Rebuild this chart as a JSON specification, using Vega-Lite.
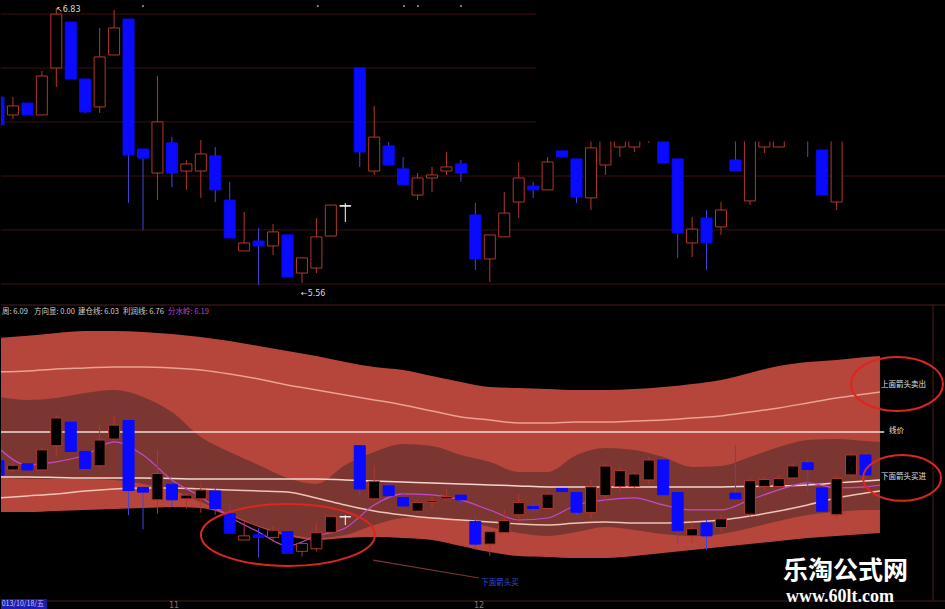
{
  "$schema": "https://vega.github.io/schema/vega-lite/v6.json",
  "background": "#000000",
  "padding": 0,
  "spacing": 0,
  "config": {"view": {"stroke": null}, "axis": {"disable": true}, "concat": {"spacing": 0}, "scale": {"continuousPadding": 0}},
  "datasets": {
    "candles": [
      {"i":0,"o":6.419,"c":6.29,"h":6.419,"l":6.29},
      {"i":1,"o":6.336,"c":6.378,"h":6.419,"l":6.317},
      {"i":2,"o":6.391,"c":6.336,"h":6.391,"l":6.336},
      {"i":3,"o":6.336,"c":6.516,"h":6.539,"l":6.336},
      {"i":4,"o":6.553,"c":6.802,"h":6.83,"l":6.465},
      {"i":5,"o":6.765,"c":6.502,"h":6.765,"l":6.502},
      {"i":6,"o":6.502,"c":6.35,"h":6.502,"l":6.345},
      {"i":7,"o":6.373,"c":6.604,"h":6.738,"l":6.345},
      {"i":8,"o":6.613,"c":6.738,"h":6.821,"l":6.613},
      {"i":9,"o":6.779,"c":6.151,"h":6.779,"l":5.93},
      {"i":10,"o":6.179,"c":6.137,"h":6.179,"l":5.805},
      {"i":11,"o":6.068,"c":6.304,"h":6.516,"l":5.943},
      {"i":12,"o":6.207,"c":6.068,"h":6.234,"l":6.003},
      {"i":13,"o":6.077,"c":6.11,"h":6.128,"l":5.99},
      {"i":14,"o":6.077,"c":6.156,"h":6.22,"l":5.953},
      {"i":15,"o":6.147,"c":5.99,"h":6.188,"l":5.934},
      {"i":16,"o":5.943,"c":5.768,"h":6.027,"l":5.768},
      {"i":17,"o":5.708,"c":5.745,"h":5.888,"l":5.708},
      {"i":18,"o":5.754,"c":5.731,"h":5.814,"l":5.551},
      {"i":19,"o":5.731,"c":5.796,"h":5.833,"l":5.689},
      {"i":20,"o":5.782,"c":5.588,"h":5.782,"l":5.588},
      {"i":21,"o":5.606,"c":5.676,"h":5.676,"l":5.56},
      {"i":22,"o":5.629,"c":5.773,"h":5.86,"l":5.606},
      {"i":23,"o":5.777,"c":5.92,"h":5.92,"l":5.777},
      {"i":24,"o":5.915,"c":5.917,"h":5.929,"l":5.842,"w":1},
      {"i":25,"o":6.553,"c":6.165,"h":6.553,"l":6.096},
      {"i":26,"o":6.077,"c":6.234,"h":6.378,"l":6.059},
      {"i":27,"o":6.193,"c":6.105,"h":6.211,"l":6.105},
      {"i":28,"o":6.087,"c":6.013,"h":6.142,"l":6.013},
      {"i":29,"o":5.966,"c":6.045,"h":6.068,"l":5.943},
      {"i":30,"o":6.045,"c":6.059,"h":6.096,"l":5.98},
      {"i":31,"o":6.077,"c":6.096,"h":6.165,"l":6.059},
      {"i":32,"o":6.11,"c":6.068,"h":6.128,"l":6.027},
      {"i":33,"o":5.874,"c":5.671,"h":5.93,"l":5.62},
      {"i":34,"o":5.671,"c":5.782,"h":5.782,"l":5.565},
      {"i":35,"o":5.773,"c":5.883,"h":5.98,"l":5.773},
      {"i":36,"o":5.934,"c":6.045,"h":6.119,"l":5.86},
      {"i":37,"o":6.008,"c":5.99,"h":6.027,"l":5.953},
      {"i":38,"o":5.99,"c":6.119,"h":6.142,"l":5.99},
      {"i":39,"o":6.17,"c":6.142,"h":6.17,"l":6.142},
      {"i":40,"o":6.133,"c":5.957,"h":6.133,"l":5.93},
      {"i":41,"o":5.953,"c":6.184,"h":6.25,"l":5.897},
      {"i":42,"o":6.105,"c":6.371,"h":6.4,"l":6.059},
      {"i":43,"o":6.188,"c":6.33,"h":6.36,"l":6.142},
      {"i":44,"o":6.188,"c":6.3,"h":6.32,"l":6.165},
      {"i":45,"o":6.246,"c":6.425,"h":6.45,"l":6.207},
      {"i":46,"o":6.425,"c":6.114,"h":6.44,"l":6.114},
      {"i":47,"o":6.133,"c":5.791,"h":6.133,"l":5.676},
      {"i":48,"o":5.745,"c":5.809,"h":5.865,"l":5.68},
      {"i":49,"o":5.86,"c":5.745,"h":5.897,"l":5.62},
      {"i":50,"o":5.819,"c":5.897,"h":5.934,"l":5.782},
      {"i":51,"o":6.128,"c":6.077,"h":6.56,"l":6.077},
      {"i":52,"o":5.939,"c":6.24,"h":6.26,"l":5.92},
      {"i":53,"o":6.188,"c":6.25,"h":6.28,"l":6.16},
      {"i":54,"o":6.188,"c":6.26,"h":6.29,"l":6.188},
      {"i":55,"o":6.264,"c":6.372,"h":6.4,"l":6.26},
      {"i":56,"o":6.4,"c":6.34,"h":6.43,"l":6.142},
      {"i":57,"o":6.174,"c":5.966,"h":6.174,"l":5.966},
      {"i":58,"o":5.934,"c":6.26,"h":6.28,"l":5.897},
      {"i":59,"o":6.291,"c":6.47,"h":6.5,"l":6.27},
      {"i":60,"o":6.47,"c":6.291,"h":6.49,"l":6.26}
    ],
    "bands": [
      {"i":0,"ot":7.52,"ob":5.959,"dt":6.991,"db":6.264,"u":7.215,"m":6.273,"lo":6.085,"pu":6.533},
      {"i":2,"ot":7.54,"ob":5.959,"dt":6.964,"db":6.255,"u":7.224,"m":6.273,"lo":6.103,"pu":6.381},
      {"i":4,"ot":7.565,"ob":5.968,"dt":6.982,"db":6.255,"u":7.242,"m":6.269,"lo":6.121,"pu":6.408},
      {"i":6,"ot":7.583,"ob":5.977,"dt":7.026,"db":6.255,"u":7.251,"m":6.264,"lo":6.148,"pu":6.47},
      {"i":8,"ot":7.583,"ob":5.986,"dt":7.053,"db":6.246,"u":7.26,"m":6.264,"lo":6.166,"pu":6.587},
      {"i":10,"ot":7.574,"ob":5.995,"dt":6.991,"db":6.211,"u":7.26,"m":6.264,"lo":6.175,"pu":6.47},
      {"i":12,"ot":7.556,"ob":6.004,"dt":6.856,"db":6.157,"u":7.251,"m":6.26,"lo":6.175,"pu":6.246},
      {"i":14,"ot":7.529,"ob":5.995,"dt":6.632,"db":6.049,"u":7.233,"m":6.255,"lo":6.166,"pu":6.094},
      {"i":16,"ot":7.493,"ob":5.923,"dt":6.497,"db":5.941,"u":7.197,"m":6.255,"lo":6.157,"pu":5.914},
      {"i":18,"ot":7.448,"ob":5.825,"dt":6.381,"db":5.834,"u":7.152,"m":6.255,"lo":6.148,"pu":5.78},
      {"i":20,"ot":7.403,"ob":5.744,"dt":6.264,"db":5.762,"u":7.098,"m":6.255,"lo":6.139,"pu":5.654},
      {"i":22,"ot":7.358,"ob":5.708,"dt":6.211,"db":5.726,"u":7.053,"m":6.255,"lo":6.085,"pu":5.744},
      {"i":24,"ot":7.304,"ob":5.726,"dt":6.381,"db":5.753,"u":7.008,"m":6.246,"lo":6.022,"pu":5.816},
      {"i":26,"ot":7.26,"ob":5.735,"dt":6.497,"db":5.843,"u":6.964,"m":6.237,"lo":5.968,"pu":6.022},
      {"i":28,"ot":7.233,"ob":5.726,"dt":6.569,"db":5.905,"u":6.919,"m":6.228,"lo":5.932,"pu":6.121},
      {"i":30,"ot":7.179,"ob":5.708,"dt":6.551,"db":5.914,"u":6.865,"m":6.219,"lo":5.905,"pu":6.112},
      {"i":32,"ot":7.125,"ob":5.654,"dt":6.47,"db":5.887,"u":6.811,"m":6.211,"lo":5.887,"pu":6.067},
      {"i":34,"ot":7.08,"ob":5.6,"dt":6.408,"db":5.825,"u":6.784,"m":6.202,"lo":5.869,"pu":5.977},
      {"i":36,"ot":7.071,"ob":5.564,"dt":6.318,"db":5.771,"u":6.757,"m":6.193,"lo":5.852,"pu":5.887},
      {"i":38,"ot":7.062,"ob":5.555,"dt":6.318,"db":5.744,"u":6.757,"m":6.184,"lo":5.843,"pu":5.905},
      {"i":40,"ot":7.053,"ob":5.546,"dt":6.47,"db":5.78,"u":6.766,"m":6.184,"lo":5.86,"pu":6.022},
      {"i":42,"ot":7.053,"ob":5.546,"dt":6.533,"db":5.825,"u":6.766,"m":6.184,"lo":5.869,"pu":6.067},
      {"i":44,"ot":7.062,"ob":5.564,"dt":6.515,"db":5.798,"u":6.775,"m":6.184,"lo":5.86,"pu":6.085},
      {"i":46,"ot":7.08,"ob":5.591,"dt":6.452,"db":5.762,"u":6.784,"m":6.184,"lo":5.86,"pu":6.022},
      {"i":48,"ot":7.107,"ob":5.618,"dt":6.363,"db":5.744,"u":6.802,"m":6.184,"lo":5.869,"pu":5.977},
      {"i":50,"ot":7.143,"ob":5.645,"dt":6.372,"db":5.762,"u":6.82,"m":6.184,"lo":5.887,"pu":5.977},
      {"i":52,"ot":7.206,"ob":5.672,"dt":6.452,"db":5.816,"u":6.856,"m":6.188,"lo":5.923,"pu":6.067},
      {"i":54,"ot":7.269,"ob":5.699,"dt":6.542,"db":5.879,"u":6.892,"m":6.193,"lo":5.968,"pu":6.157},
      {"i":56,"ot":7.304,"ob":5.726,"dt":6.605,"db":5.932,"u":6.937,"m":6.202,"lo":6.022,"pu":6.22},
      {"i":58,"ot":7.322,"ob":5.744,"dt":6.614,"db":5.959,"u":6.982,"m":6.22,"lo":6.085,"pu":6.175},
      {"i":60,"ot":7.349,"ob":5.762,"dt":6.596,"db":5.977,"u":7.017,"m":6.237,"lo":6.129,"pu":6.184},
      {"i":61,"ot":7.358,"ob":5.771,"dt":6.587,"db":5.977,"u":7.035,"m":6.246,"lo":6.148,"pu":6.201}
    ]
  },
  "vconcat": [
    {
      "width": 945,
      "height": 304,
      "layer": [
        {
          "data": {"values": [{"p":6.802},{"p":6.553},{"p":6.304},{"p":6.054},{"p":5.805},{"p":5.555}]},
          "mark": {"type": "rule", "color": "#3a1212", "strokeWidth": 1},
          "encoding": {"y": {"field": "p", "type": "quantitative", "scale": {"domain": [5.463, 6.867], "nice": false, "zero": false}}}
        },
        {
          "data": {"name": "candles"},
          "mark": {"type": "rule", "strokeWidth": 1, "clip": true},
          "encoding": {
            "x": {"field": "i", "type": "quantitative", "scale": {"domain": [0.173, 65.57], "nice": false, "zero": false, "padding": 0}},
            "y": {"field": "l", "type": "quantitative", "scale": {"domain": [5.463, 6.867], "nice": false, "zero": false}},
            "y2": {"field": "h"},
            "color": {"condition": [{"test": "datum.w", "value": "#ffffff"}, {"test": "datum.c < datum.o", "value": "#4444dd"}], "value": "#b3372b"}
          }
        },
        {
          "data": {"name": "candles"},
          "mark": {"type": "bar", "size": 11, "strokeWidth": 1, "clip": true},
          "encoding": {
            "x": {"field": "i", "type": "quantitative", "scale": {"domain": [0.173, 65.57], "nice": false, "zero": false, "padding": 0}},
            "y": {"field": "o", "type": "quantitative", "scale": {"domain": [5.463, 6.867], "nice": false, "zero": false}},
            "y2": {"field": "c"},
            "fill": {"condition": {"test": "datum.c < datum.o", "value": "#0a0aff"}, "value": "#000000"},
            "stroke": {"condition": [{"test": "datum.w", "value": "#ffffff"}, {"test": "datum.c < datum.o", "value": "#0a0aff"}], "value": "#b3372b"}
          }
        },
        {
          "data": {"values": [{"i": 37.2, "i2": 66, "p": 6.2135, "p2": 6.9}]},
          "mark": {"type": "rect", "color": "#000000", "clip": true},
          "encoding": {
            "x": {"field": "i", "type": "quantitative", "scale": {"domain": [0.173, 65.57], "nice": false, "zero": false, "padding": 0}},
            "x2": {"field": "i2"},
            "y": {"field": "p", "type": "quantitative", "scale": {"domain": [5.463, 6.867], "nice": false, "zero": false}},
            "y2": {"field": "p2"}
          }
        },
        {
          "data": {"values": [{"i": 3.98, "p": 6.821, "t": "↖6.83"}, {"i": 20.93, "p": 5.507, "t": "←5.56"}]},
          "mark": {"type": "text", "align": "left", "baseline": "middle", "fontSize": 8, "font": "DejaVu Sans", "color": "#d8d8d8", "clip": true},
          "encoding": {
            "x": {"field": "i", "type": "quantitative", "scale": {"domain": [0.173, 65.57], "nice": false, "zero": false, "padding": 0}},
            "y": {"field": "p", "type": "quantitative", "scale": {"domain": [5.463, 6.867], "nice": false, "zero": false}},
            "text": {"field": "t"}
          }
        },
        {
          "data": {"values": [{"i": 10, "p": 6.839}, {"i": 22.1, "p": 6.839}, {"i": 28.06, "p": 6.839}, {"i": 29.03, "p": 6.839}, {"i": 32, "p": 6.839}]},
          "mark": {"type": "point", "filled": true, "size": 5, "color": "#8a8a8a", "opacity": 1, "clip": true},
          "encoding": {
            "x": {"field": "i", "type": "quantitative", "scale": {"domain": [0.173, 65.57], "nice": false, "zero": false, "padding": 0}},
            "y": {"field": "p", "type": "quantitative", "scale": {"domain": [5.463, 6.867], "nice": false, "zero": false}}
          }
        }
      ]
    },
    {
      "width": 945,
      "height": 305,
      "layer": [
        {
          "data": {"name": "bands"},
          "mark": {"type": "area", "color": "#b6453b", "interpolate": "monotone", "clip": true},
          "encoding": {
            "x": {"field": "i", "type": "quantitative", "scale": {"domain": [0.173, 65.57], "nice": false, "zero": false, "padding": 0}},
            "y": {"field": "ot", "type": "quantitative", "scale": {"domain": [5.089, 7.824], "nice": false, "zero": false}},
            "y2": {"field": "ob"}
          }
        },
        {
          "data": {"name": "bands"},
          "mark": {"type": "area", "color": "#7c3632", "interpolate": "monotone", "clip": true},
          "encoding": {
            "x": {"field": "i", "type": "quantitative", "scale": {"domain": [0.173, 65.57], "nice": false, "zero": false, "padding": 0}},
            "y": {"field": "dt", "type": "quantitative", "scale": {"domain": [5.089, 7.824], "nice": false, "zero": false}},
            "y2": {"field": "db"}
          }
        },
        {
          "data": {"values": [{"p": 7.815}, {"p": 5.161}]},
          "mark": {"type": "rule", "color": "#4a1e1e", "strokeWidth": 1, "clip": true},
          "encoding": {"y": {"field": "p", "type": "quantitative", "scale": {"domain": [5.089, 7.824], "nice": false, "zero": false}}}
        },
        {
          "data": {"values": [{"i": 64.67, "p": 7.815, "p2": 5.161}]},
          "mark": {"type": "rule", "color": "#4a1e1e", "strokeWidth": 1, "clip": true},
          "encoding": {
            "x": {"field": "i", "type": "quantitative", "scale": {"domain": [0.173, 65.57], "nice": false, "zero": false, "padding": 0}},
            "y": {"field": "p", "type": "quantitative", "scale": {"domain": [5.089, 7.824], "nice": false, "zero": false}},
            "y2": {"field": "p2"}
          }
        },
        {
          "data": {"name": "bands"},
          "mark": {"type": "line", "color": "#e9a293", "strokeWidth": 1.5, "interpolate": "monotone", "clip": true},
          "encoding": {
            "x": {"field": "i", "type": "quantitative", "scale": {"domain": [0.173, 65.57], "nice": false, "zero": false, "padding": 0}},
            "y": {"field": "u", "type": "quantitative", "scale": {"domain": [5.089, 7.824], "nice": false, "zero": false}}
          }
        },
        {
          "data": {"name": "bands"},
          "mark": {"type": "line", "color": "#f2d6cc", "strokeWidth": 1.5, "interpolate": "monotone", "clip": true},
          "encoding": {
            "x": {"field": "i", "type": "quantitative", "scale": {"domain": [0.173, 65.57], "nice": false, "zero": false, "padding": 0}},
            "y": {"field": "m", "type": "quantitative", "scale": {"domain": [5.089, 7.824], "nice": false, "zero": false}}
          }
        },
        {
          "data": {"name": "bands"},
          "mark": {"type": "line", "color": "#efc3b6", "strokeWidth": 1.5, "interpolate": "monotone", "clip": true},
          "encoding": {
            "x": {"field": "i", "type": "quantitative", "scale": {"domain": [0.173, 65.57], "nice": false, "zero": false, "padding": 0}},
            "y": {"field": "lo", "type": "quantitative", "scale": {"domain": [5.089, 7.824], "nice": false, "zero": false}}
          }
        },
        {
          "data": {"values": [{"i": 0.17, "i2": 61.3, "p": 6.677}]},
          "mark": {"type": "rule", "color": "#f0dcd6", "strokeWidth": 1.5, "clip": true},
          "encoding": {
            "x": {"field": "i", "type": "quantitative", "scale": {"domain": [0.173, 65.57], "nice": false, "zero": false, "padding": 0}},
            "x2": {"field": "i2"},
            "y": {"field": "p", "type": "quantitative", "scale": {"domain": [5.089, 7.824], "nice": false, "zero": false}}
          }
        },
        {
          "data": {"name": "bands"},
          "mark": {"type": "line", "color": "#c548cc", "strokeWidth": 1.2, "interpolate": "monotone", "clip": true},
          "encoding": {
            "x": {"field": "i", "type": "quantitative", "scale": {"domain": [0.173, 65.57], "nice": false, "zero": false, "padding": 0}},
            "y": {"field": "pu", "type": "quantitative", "scale": {"domain": [5.089, 7.824], "nice": false, "zero": false}}
          }
        },
        {
          "data": {"name": "candles"},
          "mark": {"type": "rule", "strokeWidth": 1, "clip": true},
          "encoding": {
            "x": {"field": "i", "type": "quantitative", "scale": {"domain": [0.173, 65.57], "nice": false, "zero": false, "padding": 0}},
            "y": {"field": "l", "type": "quantitative", "scale": {"domain": [5.089, 7.824], "nice": false, "zero": false}},
            "y2": {"field": "h"},
            "color": {"condition": [{"test": "datum.w", "value": "#ffffff"}, {"test": "datum.c < datum.o", "value": "#4444dd"}], "value": "#b3372b"}
          }
        },
        {
          "data": {"name": "candles"},
          "mark": {"type": "bar", "size": 11, "strokeWidth": 1, "clip": true},
          "encoding": {
            "x": {"field": "i", "type": "quantitative", "scale": {"domain": [0.173, 65.57], "nice": false, "zero": false, "padding": 0}},
            "y": {"field": "o", "type": "quantitative", "scale": {"domain": [5.089, 7.824], "nice": false, "zero": false}},
            "y2": {"field": "c"},
            "fill": {"condition": {"test": "datum.c < datum.o", "value": "#0a0aff"}, "value": "#000000"},
            "stroke": {"condition": [{"test": "datum.w", "value": "#ffffff"}, {"test": "datum.c < datum.o", "value": "#0a0aff"}], "value": "#b3372b"}
          }
        },
        {
          "data": {"values": [{"i": 25.92, "i2": 33.25, "p": 5.528, "p2": 5.367}]},
          "mark": {"type": "rule", "color": "#7a3535", "strokeWidth": 1.2, "clip": true},
          "encoding": {
            "x": {"field": "i", "type": "quantitative", "scale": {"domain": [0.173, 65.57], "nice": false, "zero": false, "padding": 0}},
            "x2": {"field": "i2"},
            "y": {"field": "p", "type": "quantitative", "scale": {"domain": [5.089, 7.824], "nice": false, "zero": false}},
            "y2": {"field": "p2"}
          }
        },
        {
          "data": {"values": [{"i": 20.03, "p": 5.753}]},
          "mark": {"type": "point", "shape": "M-1,0C-1,-0.197,-0.552,-0.356,0,-0.356C0.552,-0.356,1,-0.197,1,0C1,0.197,0.552,0.356,0,0.356C-0.552,0.356,-1,0.197,-1,0Z", "size": 30276, "filled": false, "color": "#dc2620", "strokeWidth": 2, "opacity": 1, "clip": true},
          "encoding": {
            "x": {"field": "i", "type": "quantitative", "scale": {"domain": [0.173, 65.57], "nice": false, "zero": false, "padding": 0}},
            "y": {"field": "p", "type": "quantitative", "scale": {"domain": [5.089, 7.824], "nice": false, "zero": false}}
          }
        },
        {
          "data": {"values": [{"i": 62.18, "p": 7.107}]},
          "mark": {"type": "point", "shape": "M-1,0C-1,-0.324,-0.552,-0.587,0,-0.587C0.552,-0.587,1,-0.324,1,0C1,0.324,0.552,0.587,0,0.587C-0.552,0.587,-1,0.324,-1,0Z", "size": 8464, "filled": false, "color": "#dc2620", "strokeWidth": 2, "opacity": 1, "clip": true},
          "encoding": {
            "x": {"field": "i", "type": "quantitative", "scale": {"domain": [0.173, 65.57], "nice": false, "zero": false, "padding": 0}},
            "y": {"field": "p", "type": "quantitative", "scale": {"domain": [5.089, 7.824], "nice": false, "zero": false}}
          }
        },
        {
          "data": {"values": [{"i": 62.53, "p": 6.264}]},
          "mark": {"type": "point", "shape": "M-1,0C-1,-0.324,-0.552,-0.587,0,-0.587C0.552,-0.587,1,-0.324,1,0C1,0.324,0.552,0.587,0,0.587C-0.552,0.587,-1,0.324,-1,0Z", "size": 6084, "filled": false, "color": "#dc2620", "strokeWidth": 2, "opacity": 1, "clip": true},
          "encoding": {
            "x": {"field": "i", "type": "quantitative", "scale": {"domain": [0.173, 65.57], "nice": false, "zero": false, "padding": 0}},
            "y": {"field": "p", "type": "quantitative", "scale": {"domain": [5.089, 7.824], "nice": false, "zero": false}}
          }
        },
        {
          "data": {"values": [{"i": 61.07, "p": 7.098, "t": "上面箭头卖出"}, {"i": 61.63, "p": 6.685, "t": "线价"}, {"i": 61.07, "p": 6.273, "t": "下面箭头买进"}]},
          "mark": {"type": "text", "align": "left", "baseline": "middle", "fontSize": 7.5, "font": "Noto Sans CJK SC", "color": "#e0e0e0", "clip": true},
          "encoding": {
            "x": {"field": "i", "type": "quantitative", "scale": {"domain": [0.173, 65.57], "nice": false, "zero": false, "padding": 0}},
            "y": {"field": "p", "type": "quantitative", "scale": {"domain": [5.089, 7.824], "nice": false, "zero": false}},
            "text": {"field": "t"}
          }
        },
        {
          "data": {"values": [{"i": 33.4, "p": 5.322, "t": "下面箭头买"}]},
          "mark": {"type": "text", "align": "left", "baseline": "middle", "fontSize": 7.5, "font": "Noto Sans CJK SC", "color": "#3a4ad0", "clip": true},
          "encoding": {
            "x": {"field": "i", "type": "quantitative", "scale": {"domain": [0.173, 65.57], "nice": false, "zero": false, "padding": 0}},
            "y": {"field": "p", "type": "quantitative", "scale": {"domain": [5.089, 7.824], "nice": false, "zero": false}},
            "text": {"field": "t"}
          }
        },
        {
          "data": {"values": [{"i": 0.24, "p": 7.753, "t": "周: 6.09"}, {"i": 2.46, "p": 7.753, "t": "方向显: 0.00"}, {"i": 5.5, "p": 7.753, "t": "建仓线: 6.03"}, {"i": 8.62, "p": 7.753, "t": "利润线: 6.76"}]},
          "mark": {"type": "text", "align": "left", "baseline": "middle", "fontSize": 7.5, "font": "Noto Sans CJK SC", "color": "#d0d0d0", "clip": true},
          "encoding": {
            "x": {"field": "i", "type": "quantitative", "scale": {"domain": [0.173, 65.57], "nice": false, "zero": false, "padding": 0}},
            "y": {"field": "p", "type": "quantitative", "scale": {"domain": [5.089, 7.824], "nice": false, "zero": false}},
            "text": {"field": "t"}
          }
        },
        {
          "data": {"values": [{"i": 11.73, "p": 7.753, "t": "分水岭: 6.19"}]},
          "mark": {"type": "text", "align": "left", "baseline": "middle", "fontSize": 7.5, "font": "Noto Sans CJK SC", "color": "#c040c8", "clip": true},
          "encoding": {
            "x": {"field": "i", "type": "quantitative", "scale": {"domain": [0.173, 65.57], "nice": false, "zero": false, "padding": 0}},
            "y": {"field": "p", "type": "quantitative", "scale": {"domain": [5.089, 7.824], "nice": false, "zero": false}},
            "text": {"field": "t"}
          }
        },
        {
          "data": {"values": [{"i": 0.17, "i2": 3.35, "p": 5.179, "p2": 5.089}]},
          "mark": {"type": "rect", "color": "#1c1cb0", "clip": true},
          "encoding": {
            "x": {"field": "i", "type": "quantitative", "scale": {"domain": [0.173, 65.57], "nice": false, "zero": false, "padding": 0}},
            "x2": {"field": "i2"},
            "y": {"field": "p", "type": "quantitative", "scale": {"domain": [5.089, 7.824], "nice": false, "zero": false}},
            "y2": {"field": "p2"}
          }
        },
        {
          "data": {"values": [{"i": 0.22, "p": 5.13, "t": "013/10/18/五"}]},
          "mark": {"type": "text", "align": "left", "baseline": "middle", "fontSize": 7, "font": "Noto Sans CJK SC", "color": "#c8c8ff", "clip": true},
          "encoding": {
            "x": {"field": "i", "type": "quantitative", "scale": {"domain": [0.173, 65.57], "nice": false, "zero": false, "padding": 0}},
            "y": {"field": "p", "type": "quantitative", "scale": {"domain": [5.089, 7.824], "nice": false, "zero": false}},
            "text": {"field": "t"}
          }
        },
        {
          "data": {"values": [{"i": 12.15, "p": 5.12, "t": "11"}, {"i": 33.25, "p": 5.12, "t": "12"}]},
          "mark": {"type": "text", "align": "center", "baseline": "middle", "fontSize": 8, "font": "DejaVu Sans", "color": "#8a7272", "clip": true},
          "encoding": {
            "x": {"field": "i", "type": "quantitative", "scale": {"domain": [0.173, 65.57], "nice": false, "zero": false, "padding": 0}},
            "y": {"field": "p", "type": "quantitative", "scale": {"domain": [5.089, 7.824], "nice": false, "zero": false}},
            "text": {"field": "t"}
          }
        },
        {
          "data": {"values": [{"i": 58.62, "p": 5.43, "t": "乐淘公式网"}]},
          "mark": {"type": "text", "align": "center", "baseline": "middle", "fontSize": 25, "fontWeight": "bold", "font": "Noto Sans CJK SC", "color": "#ffffff", "clip": true},
          "encoding": {
            "x": {"field": "i", "type": "quantitative", "scale": {"domain": [0.173, 65.57], "nice": false, "zero": false, "padding": 0}},
            "y": {"field": "p", "type": "quantitative", "scale": {"domain": [5.089, 7.824], "nice": false, "zero": false}},
            "text": {"field": "t"}
          }
        },
        {
          "data": {"values": [{"i": 58.24, "p": 5.197, "t": "www.60lt.com"}]},
          "mark": {"type": "text", "align": "center", "baseline": "middle", "fontSize": 18, "fontWeight": "bold", "font": "Liberation Serif", "color": "#ffffff", "clip": true},
          "encoding": {
            "x": {"field": "i", "type": "quantitative", "scale": {"domain": [0.173, 65.57], "nice": false, "zero": false, "padding": 0}},
            "y": {"field": "p", "type": "quantitative", "scale": {"domain": [5.089, 7.824], "nice": false, "zero": false}},
            "text": {"field": "t"}
          }
        }
      ]
    }
  ]
}
